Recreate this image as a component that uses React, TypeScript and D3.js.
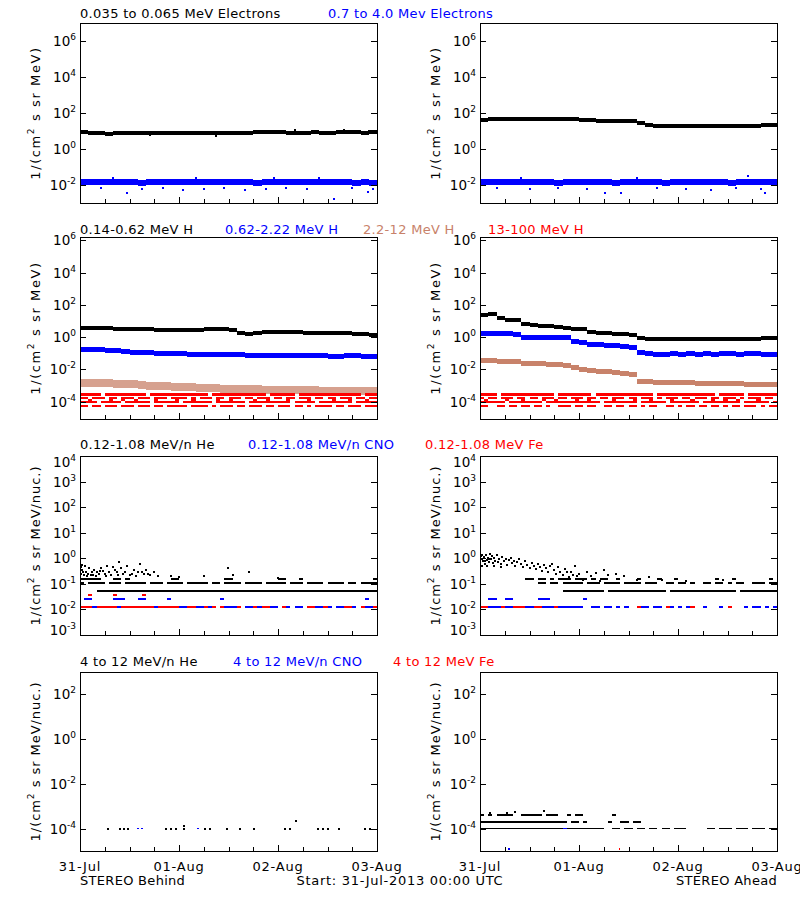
import React from "react";
import * as d3 from "d3";

const FONT = "'DejaVu Sans', 'Liberation Sans', sans-serif";
const START = new Date(Date.UTC(2013, 6, 31));
const END = new Date(Date.UTC(2013, 7, 3));

const BLACK = "#000000";
const BLUE = "#0000ff";
const BROWN = "#c8826a";
const RED = "#ff0000";
const CHAR_COLOR: Record<string, string> = { k: BLACK, b: BLUE, r: RED, n: BROWN };

// ---------- labels ----------
const dayLabels = ["31-Jul", "01-Aug", "02-Aug", "03-Aug"];
const row1Titles = ["0.035 to 0.065 MeV Electrons", "0.7 to 4.0 Mev Electrons"];
const row2Titles = ["0.14-0.62 MeV H", "0.62-2.22 MeV H", "2.2-12 MeV H", "13-100 MeV H"];
const row3Titles = ["0.12-1.08 MeV/n He", "0.12-1.08 MeV/n CNO", "0.12-1.08 MeV Fe"];
const row4Titles = ["4 to 12 MeV/n He", "4 to 12 MeV/n CNO", "4 to 12 MeV Fe"];
const row1Exps = ["-2", "0", "2", "4", "6"];
const row2Exps = ["-4", "-2", "0", "2", "4", "6"];
const row3Exps = ["-3", "-2", "-1", "0", "1", "2", "3", "4"];
const row4Exps = ["-4", "-2", "0", "2"];
const leftFooter = "STEREO Behind";
const midFooter = "Start: 31-Jul-2013 00:00 UTC";
const rightFooter = "STEREO Ahead";

// ---------- row 1: electrons (2-hour bins) ----------
const eLowBehind = [8.5, 8.0, 7.4, 7.2, 7.5, 7.8, 7.6, 7.7, 8.0, 7.8, 7.6, 7.5, 7.7, 7.6, 7.8, 7.9, 7.7, 7.6, 7.8, 7.9, 8.2, 8.6, 9.0, 8.8, 8.4, 8.2, 8.0, 8.1, 8.3, 8.2, 8.0, 8.3, 8.5, 8.4, 8.2, 8.3];
const eHighBehind = [0.015, 0.014, 0.015, 0.014, 0.014, 0.015, 0.014, 0.013, 0.014, 0.015, 0.014, 0.014, 0.015, 0.014, 0.014, 0.015, 0.015, 0.014, 0.014, 0.015, 0.014, 0.013, 0.014, 0.014, 0.015, 0.014, 0.014, 0.015, 0.014, 0.014, 0.014, 0.015, 0.014, 0.013, 0.014, 0.013];
const eLowAhead = [43, 44, 45, 46, 47, 48, 48, 49, 48, 48, 47, 47, 41, 40, 38, 37, 36, 35, 35, 28, 21, 20, 20, 19.5, 19, 19, 19, 18.5, 19, 18.5, 19, 19.5, 20, 20, 20.5, 21];
const eHighAhead = [0.014, 0.015, 0.014, 0.014, 0.015, 0.014, 0.014, 0.015, 0.014, 0.013, 0.014, 0.015, 0.014, 0.014, 0.015, 0.014, 0.013, 0.014, 0.014, 0.015, 0.014, 0.014, 0.013, 0.014, 0.015, 0.014, 0.014, 0.014, 0.015, 0.014, 0.013, 0.014, 0.014, 0.015, 0.014, 0.014];
const eLowBehindOut: [number, number][] = [[17, 6], [33, 5.5], [52, 11], [64, 12], [70, 10.5]];
const eHighBehindOut: [number, number][] = [[11.3, 3.5e-3], [25, 5e-3], [40, 5e-3], [61.6, 1.7e-3], [69.8, 4e-3], [5, 6.5e-3], [15, 6e-3], [20, 6.5e-3], [30, 6e-3], [35, 6.6e-3], [45, 6e-3], [50, 6.5e-3], [55, 6e-3], [66, 6.5e-3], [71, 6e-3], [8, 0.025], [28, 0.026], [47, 0.025], [58, 0.024]];
const eHighAheadOut: [number, number][] = [[30.3, 3.5e-3], [34.3, 3.5e-3], [56, 5e-3], [4, 6.5e-3], [12, 6e-3], [19, 6.5e-3], [26, 6e-3], [43, 6.5e-3], [50, 6e-3], [62, 6.5e-3], [68, 6e-3], [69, 3.5e-3], [10, 0.026], [38, 0.025], [65, 0.03]];

// ---------- row 2: protons (2-hour bins) ----------
const hLowBehind = [3.6, 3.7, 3.6, 3.5, 3.4, 3.3, 3.2, 3.1, 3.0, 2.9, 2.8, 2.8, 2.7, 2.6, 2.8, 3.0, 3.1, 3.0, 2.6, 1.8, 1.5, 1.7, 2.0, 2.2, 2.1, 2.0, 2.0, 1.9, 1.9, 1.8, 1.8, 1.7, 1.7, 1.6, 1.5, 1.3];
const hMidBehind = [0.17, 0.16, 0.16, 0.15, 0.14, 0.13, 0.12, 0.12, 0.11, 0.10, 0.10, 0.10, 0.095, 0.09, 0.09, 0.09, 0.085, 0.085, 0.08, 0.08, 0.075, 0.075, 0.075, 0.07, 0.07, 0.07, 0.07, 0.068, 0.07, 0.068, 0.066, 0.065, 0.068, 0.07, 0.065, 0.06];
const hBrBehind = [1.5e-3, 1.5e-3, 1.4e-3, 1.4e-3, 1.3e-3, 1.3e-3, 1.2e-3, 1.1e-3, 1.0e-3, 9e-4, 9e-4, 8.5e-4, 8e-4, 8e-4, 7.5e-4, 7e-4, 7e-4, 6.5e-4, 6.5e-4, 6e-4, 6e-4, 6e-4, 5.5e-4, 5.5e-4, 5.5e-4, 5e-4, 5e-4, 5e-4, 5e-4, 4.8e-4, 4.8e-4, 4.6e-4, 4.6e-4, 4.5e-4, 4.5e-4, 4.5e-4];
const hLowAhead = [22, 28, 16, 12, 11, 6.5, 5.5, 5.2, 4.8, 4.0, 3.6, 3.4, 3.0, 2.0, 1.8, 1.7, 1.6, 1.6, 1.4, 0.9, 0.78, 0.76, 0.75, 0.76, 0.74, 0.75, 0.76, 0.74, 0.75, 0.77, 0.78, 0.8, 0.8, 0.82, 0.85, 0.85];
const hMidAhead = [1.7, 1.7, 1.65, 1.6, 1.5, 1.0, 0.98, 0.95, 0.95, 0.92, 0.9, 0.55, 0.45, 0.34, 0.33, 0.32, 0.3, 0.28, 0.24, 0.11, 0.095, 0.09, 0.09, 0.095, 0.09, 0.092, 0.09, 0.095, 0.09, 0.092, 0.095, 0.09, 0.092, 0.095, 0.09, 0.09];
const hBrAhead = [0.035, 0.034, 0.033, 0.032, 0.03, 0.025, 0.023, 0.022, 0.021, 0.02, 0.018, 0.013, 0.01, 0.008, 0.0075, 0.007, 0.0065, 0.006, 0.005, 0.0018, 1.7e-3, 1.6e-3, 1.6e-3, 1.5e-3, 1.5e-3, 1.5e-3, 1.4e-3, 1.4e-3, 1.4e-3, 1.3e-3, 1.3e-3, 1.3e-3, 1.2e-3, 1.2e-3, 1.2e-3, 1.1e-3];
// 13-100 MeV H: quantised count levels, hourly presence
const hRedLevels = [3.0e-4, 1.8e-4, 1.3e-4, 1.0e-4, 5.5e-5];
const hRedBehind = [
  "rrrrr.rrrrrr rrrr.rrrrrrr rrrrrrr.rrrr rrrrrrrrr.rr rrrr.rrrrrrr rrrrrrrr.rrr",
  "rr.rrr.rr.rr r.rrr.rrr.rr rr.r.rrr.rr. rrr.rr.rrr.r r.rr.rrr.rr. rr.rrr.rr.rr",
  "..r....r..r. .r....r....r ...r.....r.. r.....r..r.. ..r....r.... .r...r...r..",
  "rrrr.rrrrr.r rrrrr.rrrrrr .rrrrrrr.rrr rrrr.rrrrrrr rrr.rrrrr.rr rrrrrr.rrrrr",
  "rr.rr.rrr.rr r.rrr.rr.rrr rr.rrrr.r.rr r.rr.rrr.rr. rrr.rr.r.rrr r.rr.rrr.rrr",
];
const hRedAhead = [
  "rrrr.rrrrrrr rrrrrr.rrrrr rrr.rrrrrrrr rrrrrr.rrrrr rrrrrrrrr.rr rrrr.rrrrrrr",
  "r.rr.rrr.rr. rr.rrr.rr.rr r.rr.rr.rrr. rr.rrr.r.rrr .rr.rrr.rr.r rr.r.rrr.rr.",
  ".r....r...r. ...r..r....r ..r.....r... .r...r....r. ...r....r..r ..r....r....",
  "rrrrrr.rrrrr rrr.rrrrrrrr rrrrr.rrrrrr rr.rrrrrr.rr rrrrr.rrrrrr rrr.rrrrrr.r",
  "rr..rr.rr.rr .rr.r..rrr.r r.rr..rr.rr. rr.r.rr..rr. r.rr.rr.rr.r .rr.rrr.r.rr",
];

// ---------- row 3: 0.12-1.08 MeV/n heavy ions ----------
const hvLevels = [0.16, 0.105, 0.054, 0.036, 0.025, 0.012];
const hvBehind = [
  "kkkkk...kk.k ..........kk ...........k k........... kk...k...... ...........k",
  "k.kkkk.kkk.k kkkk.kkk.kkk k.kkkkk.kk.k kkk.kkkk.kkk kk.kkk.kkkk. kkkk.kk.kkkk",
  "....kkkkkkkk kkkkkkkkkkkk kkkkkkkkkkkk kkkkkkkkkkkk kkkkkkkkkkkk kkkkkkkkkkkk",
  "..r.....r... ...r........ ............ ............ ............ ............",
  ".bb.....bbb. ..bb.....b.. ..........b. ............ ............ .........b..",
  "rrrbrrrrrbrr rrrrrrbrrrrr bbrrbbrbr.rb bbr.bbrbrrbb .rb.bb.rrbbr b.bbrrb.rbbr",
];
const hvAhead = [
  "...........k k.kk.k.kkk.k kk.k.kk..k.. ..k....k...k .........k.. .k........k.",
  "............ ..kk.kk.kkkk k.kkk.kkkk.k kkk.kkk..kk. kk.k..kk.kk. k.kk..kkk.kk",
  "............ ........kkkk kkkkkk.kkkkk kkkkkkkkk.kk kkkkkkkkkkkk kk.kkkkkkkkk",
  "............ ............ ............ ............ ............ ............",
  "..bb..bb.... ..bbb....... .b.......... ............ ............ ............",
  "rrbbbrbbrrrb brrbbbrbbbbb b..bb.bb.b.b ..rbb.bb.rb. b.br..b...b. r...b.bb.b.b",
];
const heScatterBehind: [number, number][] = [[0.3, 0.45], [0.5, 0.35], [0.8, 0.28], [1.2, 0.5], [1.5, 0.3], [2, 0.25], [2.3, 0.4], [2.8, 0.3], [3.2, 0.22], [3.5, 0.35], [4, 0.28], [4.5, 0.25], [5, 0.4], [5.5, 0.32], [6, 0.25], [6.5, 0.5], [7, 0.3], [7.5, 0.22], [8, 0.45], [8.5, 0.35], [9, 0.28], [9.5, 0.7], [10, 0.4], [10.5, 0.25], [11, 0.3], [11.5, 0.5], [12, 0.22], [13, 0.35], [14, 0.28], [14.5, 0.6], [15, 0.3], [15.5, 0.24], [16, 0.35], [17, 0.22], [18, 0.3], [19, 0.2], [22, 0.2], [24, 0.18], [30, 0.2], [35.8, 0.4], [37, 0.22], [41, 0.28], [48, 0.17], [0.2, 0.25], [0.9, 0.22], [1.8, 0.2], [3.8, 0.2], [6.2, 0.2], [9.2, 0.22], [12.5, 0.24], [13.5, 0.2], [16.5, 0.25], [0.6, 0.55], [2.6, 0.22], [4.8, 0.33]];
const heScatterAhead: [number, number][] = [[0.2, 1.2], [0.4, 0.9], [0.6, 1.4], [0.8, 0.75], [1.0, 1.1], [1.2, 0.6], [1.4, 1.3], [1.6, 0.85], [1.9, 1.0], [2.1, 0.7], [2.4, 1.5], [2.6, 0.9], [2.9, 1.2], [3.1, 0.65], [3.4, 1.0], [3.7, 0.8], [4.0, 1.3], [4.3, 0.7], [4.6, 0.95], [5.0, 0.6], [5.4, 1.1], [5.8, 0.75], [6.2, 0.9], [6.6, 0.55], [7.0, 0.85], [7.4, 1.0], [7.8, 0.65], [8.2, 0.8], [8.6, 0.5], [9.0, 0.7], [9.5, 0.9], [10, 0.6], [10.5, 0.45], [11, 0.75], [11.5, 0.55], [12, 0.42], [12.5, 0.65], [13, 0.5], [13.5, 0.38], [14, 0.6], [14.5, 0.45], [15, 0.32], [15.5, 0.55], [16, 0.4], [16.5, 0.3], [17, 0.5], [17.5, 0.62], [18, 0.35], [18.5, 0.25], [19, 0.45], [19.5, 0.3], [20, 0.22], [20.5, 0.38], [21, 0.28], [21.5, 0.18], [22, 0.3], [22.5, 0.22], [23, 0.48], [23.5, 0.2], [24, 0.25], [25, 0.14], [26, 0.3], [27, 0.2], [28, 0.26], [29, 0.13], [30, 0.35], [31, 0.22], [33, 0.25], [35, 0.2], [38, 0.14], [41, 0.18], [44, 0.14], [50, 0.13], [59, 0.14], [0.5, 0.5], [1.7, 0.48], [3.3, 0.5], [5.2, 0.45], [2.2, 0.95], [1.1, 0.8]];

// ---------- row 4: 4-12 MeV/n heavy ions ----------
const he4Behind: [number, number][] = [[6.7, 1e-4], [9.7, 1e-4], [10.7, 1e-4], [11.6, 1e-4], [20.8, 1e-4], [22, 1e-4], [23.2, 1e-4], [25.3, 1e-4], [25.3, 1.3e-4], [30.3, 1e-4], [31.5, 1e-4], [35.6, 1e-4], [38.8, 1e-4], [42.3, 1e-4], [49.7, 1e-4], [50.9, 1e-4], [52.3, 2.1e-4], [57.8, 1e-4], [58.8, 1e-4], [60, 1e-4], [62.8, 1e-4], [69.1, 1e-4], [70.3, 1e-4]];
const cno4Behind: [number, number][] = [[14, 1e-4], [15, 1e-4], [28.7, 1e-4]];
const hv4Levels = [4.0e-4, 2.0e-4, 1.0e-4];
const hv4Ahead = [
  "k.k.kkkk..kk kkk.kkk..k.k k.......k... ............ ............ ............",
  "kkkkkkkkkkkk kkkkkkkkk.kk .k.....k..kk .kk......... ............ ............",
  "kkkkkkkkkkkk kkkkkkkkbkkk kkkkkk..kk.k k.kk.kk.kk.k kk.....kk.kk k.kkk.kkk.kk",
];
const he4AheadHigh: [number, number][] = [[2.5, 5e-4], [6.5, 5e-4], [8.5, 5.3e-4], [15.5, 6.2e-4]];
const cno4Ahead: [number, number][] = [[7, 1.25e-5]];
const fe4Ahead: [number, number][] = [[33.8, 1.25e-5]];

// ---------- layout ----------
const PW = 297;
const COLS = [80, 480];
const ROWS = [
  { top: 23, h: 180, lo: 1e-3, hi: 1e7, exps: row1Exps },
  { top: 237, h: 182, lo: 8.5e-6, hi: 1.6e6, exps: row2Exps },
  { top: 456, h: 179, lo: 1e-3, hi: 1e4, exps: row3Exps },
  { top: 672, h: 179, lo: 1e-5, hi: 1e3, exps: row4Exps },
];

type Band = { vals: number[]; color: string; thick: number; op?: number };
type Level = { value: number; pattern: string; thick: number };
type Pts = { pts: [number, number][]; color: string; w: number; h: number };

function Panel(props: { id: string; col: number; row: number; ylabel: string; ls: number; bands?: Band[]; levels?: Level[]; points?: Pts[] }) {
  const { id, col, row, ylabel } = props;
  const x0 = COLS[col];
  const r = ROWS[row];
  const xs = d3.scaleUtc().domain([START, END]).range([x0, x0 + PW]);
  const hx = (h: number) => xs(new Date(START.getTime() + h * 3600000));
  const ys = d3.scaleLog().domain([r.lo, r.hi]).range([r.top + r.h, r.top]);
  const bottom = r.top + r.h;
  const hourTicks = d3.utcHour.every(6)!.range(START, new Date(END.getTime() + 1));
  const cy = r.top + r.h / 2;
  // labels at the very ends of the axis are kept inside the axis range
  const labelY = (y: number) => (y - r.top < 1.5 ? y + 11 : bottom - y < 1.5 ? y : y + 5);

  return (
    <g>
      <defs>
        <clipPath id={`clip-${id}`}>
          <rect x={x0} y={r.top} width={PW} height={r.h} />
        </clipPath>
      </defs>
      <g clipPath={`url(#clip-${id})`} shapeRendering="crispEdges">
        {(props.bands || []).map((b, bi) => {
          const bin = 72 / b.vals.length;
          return b.vals.map((v, i) => {
            const xa = hx(i * bin);
            const xb = hx((i + 1) * bin);
            return <rect key={`b${bi}-${i}`} x={xa} y={ys(v) - b.thick / 2} width={xb - xa} height={b.thick} fill={b.color} opacity={b.op ?? 1} />;
          });
        })}
        {(props.levels || []).map((l, li) => {
          const s = l.pattern.replace(/\s/g, "");
          const bin = 72 / s.length;
          return s.split("").map((c, i) => {
            if (c === ".") return null;
            const xa = hx(i * bin);
            const xb = hx((i + 1) * bin);
            return <rect key={`l${li}-${i}`} x={xa} y={ys(l.value) - l.thick / 2} width={xb - xa} height={l.thick} fill={CHAR_COLOR[c]} />;
          });
        })}
        {(props.points || []).map((p, pi) =>
          p.pts.map(([h, v], i) => (
            <rect key={`p${pi}-${i}`} x={hx(h) - p.w / 2} y={ys(v) - p.h / 2} width={p.w} height={p.h} fill={p.color} />
          ))
        )}
      </g>
      <g shapeRendering="crispEdges" stroke="#000" strokeWidth={1}>
        <rect x={x0} y={r.top} width={PW} height={r.h} fill="none" />
        {r.exps.map((e) => {
          const y = Math.round(ys(Math.pow(10, +e)));
          return (
            <g key={e}>
              <line x1={x0} x2={x0 + 6} y1={y} y2={y} />
              <line x1={x0 + PW - 6} x2={x0 + PW} y1={y} y2={y} />
            </g>
          );
        })}
        {hourTicks.map((t) => {
          const x = Math.round(xs(t));
          const len = t.getUTCHours() === 0 ? 6 : 4;
          return <line key={+t} x1={x} x2={x} y1={bottom} y2={bottom - len} />;
        })}
      </g>
      <g fontFamily={FONT} fill="#000">
        {r.exps.map((e) => (
          <text key={e} x={x0 - 4} y={labelY(ys(Math.pow(10, +e)))} textAnchor="end" fontSize={13.5}>
            10<tspan dy={-6} fontSize={9}>{e}</tspan>
          </text>
        ))}
        <text transform={`translate(${x0 - 40},${cy}) rotate(-90)`} textAnchor="middle" fontSize={13} letterSpacing={props.ls}>
          1/(cm<tspan dy={-6} fontSize={9}>2</tspan>
          <tspan dy={6}>{ylabel}</tspan>
        </text>
        {row === 3 &&
          dayLabels.map((d, i) => (
            <text key={d} x={xs(d3.utcDay.offset(START, i))} y={871} textAnchor="middle" fontSize={13} letterSpacing={0.8}>
              {d}
            </text>
          ))}
      </g>
    </g>
  );
}

function Titles(props: { y: number; items: string[]; colors: string[]; xs: number[] }) {
  return (
    <g fontFamily={FONT} fontSize={13} letterSpacing={0.3}>
      {props.items.map((t, i) => (
        <text key={t} x={props.xs[i]} y={props.y} fill={props.colors[i]}>
          {t}
        </text>
      ))}
    </g>
  );
}

export default function App() {
  const unit1 = " s sr MeV)";
  const unit2 = " s sr MeV/nuc.)";
  return (
    <svg width={800} height={900} viewBox="0 0 800 900" style={{ position: "absolute", left: 0, top: 0, background: "#fff" }}>
      <rect x={0} y={0} width={800} height={900} fill="#fff" />
      <Titles y={18} items={row1Titles} colors={[BLACK, BLUE]} xs={[80, 328]} />
      <Titles y={234} items={row2Titles} colors={[BLACK, BLUE, BROWN, RED]} xs={[80, 225, 363, 488]} />
      <Titles y={449} items={row3Titles} colors={[BLACK, BLUE, RED]} xs={[80, 248, 425]} />
      <Titles y={666} items={row4Titles} colors={[BLACK, BLUE, RED]} xs={[80, 233, 393]} />

      <Panel id="r1l" col={0} row={0} ylabel={unit1} ls={1.6}
        bands={[{ vals: eLowBehind, color: BLACK, thick: 4 }, { vals: eHighBehind, color: BLUE, thick: 6 }]}
        points={[{ pts: eLowBehindOut, color: BLACK, w: 2, h: 2 }, { pts: eHighBehindOut, color: BLUE, w: 2, h: 2 }]} />
      <Panel id="r1r" col={1} row={0} ylabel={unit1} ls={1.6}
        bands={[{ vals: eLowAhead, color: BLACK, thick: 4 }, { vals: eHighAhead, color: BLUE, thick: 6 }]}
        points={[{ pts: eHighAheadOut, color: BLUE, w: 2, h: 2 }]} />

      <Panel id="r2l" col={0} row={1} ylabel={unit1} ls={1.6}
        bands={[{ vals: hBrBehind, color: BROWN, thick: 8, op: 0.75 }, { vals: hMidBehind, color: BLUE, thick: 5 }, { vals: hLowBehind, color: BLACK, thick: 4 }]}
        levels={hRedBehind.map((p, i) => ({ value: hRedLevels[i], pattern: p, thick: i === 0 ? 3 : 2 }))} />
      <Panel id="r2r" col={1} row={1} ylabel={unit1} ls={1.6}
        bands={[{ vals: hBrAhead, color: BROWN, thick: 5 }, { vals: hMidAhead, color: BLUE, thick: 5 }, { vals: hLowAhead, color: BLACK, thick: 4 }]}
        levels={hRedAhead.map((p, i) => ({ value: hRedLevels[i], pattern: p, thick: i === 0 ? 3 : 2 }))} />

      <Panel id="r3l" col={0} row={2} ylabel={unit2} ls={0.95}
        levels={hvBehind.map((p, i) => ({ value: hvLevels[i], pattern: p, thick: 2 }))}
        points={[{ pts: heScatterBehind, color: BLACK, w: 2, h: 2 }]} />
      <Panel id="r3r" col={1} row={2} ylabel={unit2} ls={0.95}
        levels={hvAhead.map((p, i) => ({ value: hvLevels[i], pattern: p, thick: 2 }))}
        points={[{ pts: heScatterAhead, color: BLACK, w: 2, h: 2 }]} />

      <Panel id="r4l" col={0} row={3} ylabel={unit2} ls={0.95}
        points={[{ pts: he4Behind, color: BLACK, w: 2, h: 2 }, { pts: cno4Behind, color: BLUE, w: 2, h: 1 }]} />
      <Panel id="r4r" col={1} row={3} ylabel={unit2} ls={0.95}
        levels={hv4Ahead.map((p, i) => ({ value: hv4Levels[i], pattern: p, thick: i === 2 ? 1 : 2 }))}
        points={[{ pts: he4AheadHigh, color: BLACK, w: 2, h: 2 }, { pts: cno4Ahead, color: BLUE, w: 2, h: 2 }, { pts: fe4Ahead, color: RED, w: 1, h: 2 }]} />

      <g fontFamily={FONT} fontSize={13} letterSpacing={0.3}>
        <text x={80} y={885}>{leftFooter}</text>
        <text x={400} y={885} textAnchor="middle" letterSpacing={0.7}>{midFooter}</text>
        <text x={777} y={885} textAnchor="end">{rightFooter}</text>
      </g>
    </svg>
  );
}
